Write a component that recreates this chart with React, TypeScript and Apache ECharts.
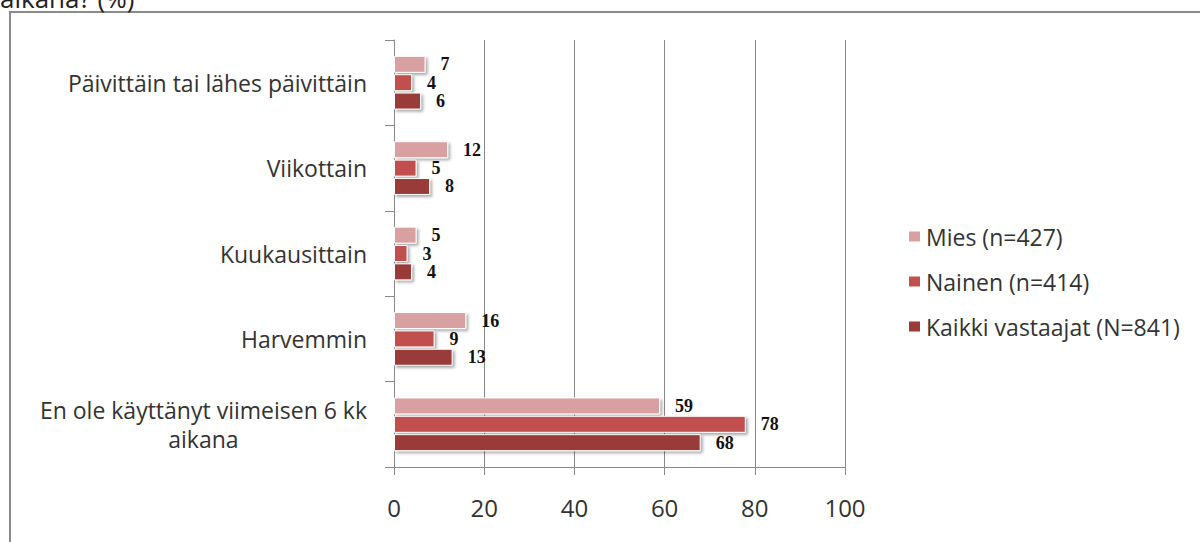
import React, { useEffect, useRef } from "react";
import * as echarts from "echarts";

const categories = [
  "Päivittäin tai lähes päivittäin",
  "Viikottain",
  "Kuukausittain",
  "Harvemmin",
  "En ole käyttänyt viimeisen 6 kk\naikana",
];
const seriesNames = ["Mies (n=427)", "Nainen (n=414)", "Kaikki vastaajat (N=841)"];
const mies = [7, 12, 5, 16, 59];
const nainen = [4, 5, 3, 9, 78];
const kaikki = [6, 8, 4, 13, 68];
const colors = ["#D9A0A2", "#C0504D", "#993B39"];
const titleFragment = "aikana? (%)";

const FONT = "'Open Sans', sans-serif";

export default function App() {
  const ref = useRef<HTMLDivElement>(null);
  useEffect(() => {
    const chart = echarts.init(ref.current!, null, { renderer: "svg" });
    const values = [mies, nainen, kaikki];
    chart.setOption({
      animation: false,
      backgroundColor: "#ffffff",
      textStyle: { fontFamily: FONT },
      graphic: [
        {
          type: "rect",
          shape: { x: 10, y: 12, width: 1300, height: 700 },
          style: { fill: "none", stroke: "#8a8a8a", lineWidth: 2 },
          silent: true,
        },
        {
          type: "text",
          x: 0,
          y: 11,
          style: {
            text: titleFragment,
            fontSize: 26,
            fill: "#222",
            fontFamily: FONT,
            verticalAlign: "bottom",
            align: "left",
          },
        },
      ],
      legend: {
        orient: "vertical",
        left: 902,
        top: 220,
        itemGap: 22,
        itemWidth: 13,
        itemHeight: 12,
        icon: "rect",
        textStyle: { fontSize: 23, color: "#333", fontFamily: FONT },
        data: seriesNames,
      },
      grid: { left: 394, right: 355, top: 40, bottom: 75, containLabel: false },
      xAxis: {
        type: "value",
        min: 0,
        max: 100,
        interval: 20,
        axisLine: { show: true, lineStyle: { color: "#888", width: 1 } },
        axisTick: { show: true, length: 8, lineStyle: { color: "#888" } },
        splitLine: { show: true, lineStyle: { color: "#888", width: 1 } },
        axisLabel: { fontSize: 24, color: "#333", margin: 28, fontFamily: FONT },
      },
      yAxis: {
        type: "category",
        inverse: true,
        data: categories,
        axisLine: { show: true, lineStyle: { color: "#888", width: 1 } },
        axisTick: { show: true, length: 9, lineStyle: { color: "#888" } },
        axisLabel: {
          fontSize: 23,
          color: "#333",
          margin: 27,
          align: "right",
          fontFamily: FONT,
          formatter: (v: string) =>
            v.includes("\n") ? v.split("\n").map((s) => `{c|${s}}`).join("\n") : v,
          rich: {
            c: { align: "center", fontSize: 23, color: "#333", lineHeight: 29, fontFamily: FONT },
          },
        },
      },
      series: seriesNames.map((name, i) => ({
        name,
        type: "bar",
        data: values[i],
        barWidth: 17,
        barGap: "8%",
        itemStyle: {
          color: colors[i],
          borderColor: "#ffffff",
          borderWidth: 1,
          shadowBlur: 3,
          shadowColor: "rgba(0,0,0,0.35)",
          shadowOffsetX: 2,
          shadowOffsetY: 2,
        },
        label: {
          show: true,
          position: "right",
          distance: 15,
          fontSize: 18,
          fontWeight: "bold",
          color: "#111",
          fontFamily: "'Liberation Serif', serif",
        },
      })),
    });
    return () => chart.dispose();
  }, []);
  return (
    <div
      ref={ref}
      style={{ position: "absolute", left: 0, top: 0, width: 1200, height: 542 }}
    />
  );
}
